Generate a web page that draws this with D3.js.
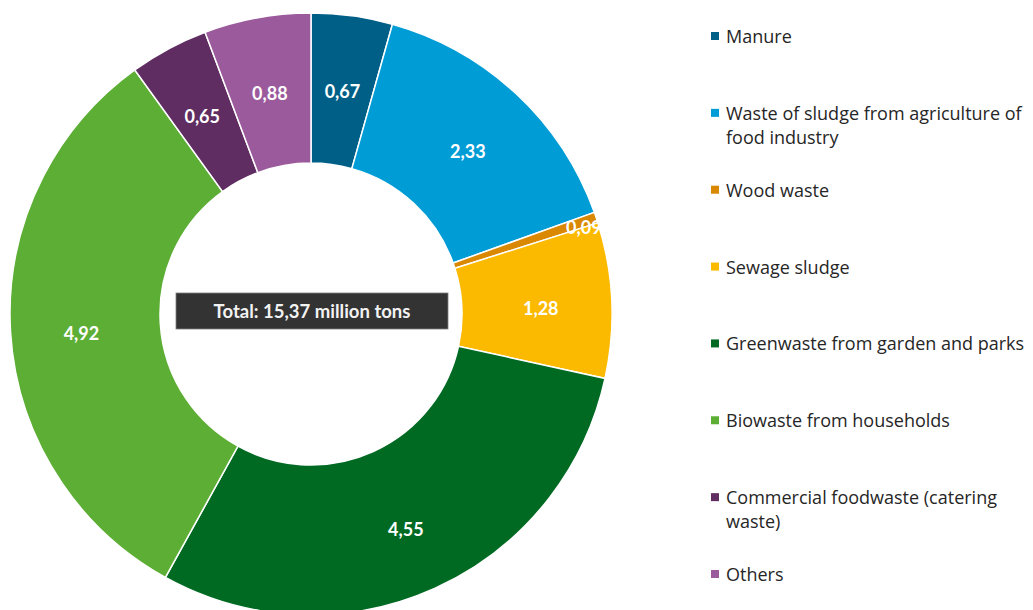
<!DOCTYPE html>
<html>
<head>
<meta charset="utf-8">
<script src="https://cdn.jsdelivr.net/npm/d3@7"></script>
<style>
  html, body { margin: 0; padding: 0; background: #ffffff; }
  svg { display: block; }
</style>
</head>
<body>
<svg id="chart" width="1033" height="610"></svg>
<script>
const categories = [
  "Manure",
  "Waste of sludge from agriculture of food industry",
  "Wood waste",
  "Sewage sludge",
  "Greenwaste from garden and parks",
  "Biowaste from households",
  "Commercial foodwaste (catering waste)",
  "Others"
];
const legendLines = [
  ["Manure"],
  ["Waste of sludge from agriculture of", "food industry"],
  ["Wood waste"],
  ["Sewage sludge"],
  ["Greenwaste from garden and parks"],
  ["Biowaste from households"],
  ["Commercial foodwaste (catering", "waste)"],
  ["Others"]
];
const values = [0.67, 2.33, 0.09, 1.28, 4.55, 4.92, 0.65, 0.88];
const colors = ["#005f87", "#009cd6", "#d98800", "#fbba00", "#006a23", "#5dae35", "#5f2d62", "#9b5a9c"];
const totalLabel = "Total: 15,37 million tons";

const svg = d3.select("#chart");
const cx = 311, cy = 314, R = 301, r = 151;
const fmt = v => v.toFixed(2).replace(".", ",");

const pie = d3.pie().sort(null).value(d => d.value);
const data = categories.map((c, i) => ({ name: c, value: values[i], color: colors[i] }));
const arcs = pie(data);
const arc = d3.arc().innerRadius(r).outerRadius(R);

const g = svg.append("g").attr("transform", `translate(${cx},${cy})`);
g.selectAll("path.slice").data(arcs).join("path")
  .attr("class", "slice")
  .attr("d", arc)
  .attr("fill", d => d.data.color)
  .attr("stroke", "#ffffff")
  .attr("stroke-width", 1.5);

const labelArc = d3.arc().innerRadius(230).outerRadius(230);
const smallArc = d3.arc().innerRadius(288).outerRadius(288);
g.selectAll("text.val").data(arcs).join("text")
  .attr("class", "val")
  .attr("transform", d => {
    const small = (d.endAngle - d.startAngle) < 0.1;
    const [x, y] = small ? smallArc.centroid(d) : labelArc.centroid(d);
    return `translate(${x},${y + 5})`;
  })
  .attr("text-anchor", "middle")
  .attr("dominant-baseline", "central")
  .attr("font-family", "Lato, 'Open Sans', sans-serif")
  .attr("font-weight", "bold")
  .attr("font-size", 18)
  .attr("fill", "#ffffff")
  .text(d => fmt(d.data.value));

// Total box
const boxW = 272, boxH = 36;
g.append("rect")
  .attr("x", -boxW / 2 + 1).attr("y", -boxH / 2 - 3)
  .attr("width", boxW).attr("height", boxH)
  .attr("fill", "#333333")
  .attr("stroke", "#7f7f7f").attr("stroke-width", 0.8);
g.append("text")
  .attr("x", 1).attr("y", -3)
  .attr("text-anchor", "middle")
  .attr("dominant-baseline", "central")
  .attr("font-family", "Lato, 'Open Sans', sans-serif")
  .attr("font-weight", "bold")
  .attr("font-size", 18.5)
  .attr("fill", "#f2f2f2")
  .text(totalLabel);

// Legend
const legendFont = "'Open Sans', Lato, sans-serif";
const probe = svg.append("text")
  .attr("font-family", legendFont).attr("font-size", 100)
  .text("Greenwaste from garden and parks");
const legendSize = Math.min(18, 100 * 301 / probe.node().getComputedTextLength());
probe.remove();

const ly = d3.scalePoint().domain(categories).range([36, 574]);
const legend = svg.append("g");
const items = legend.selectAll("g.item").data(data).join("g")
  .attr("class", "item")
  .attr("transform", d => `translate(711,${ly(d.name)})`);
items.append("rect")
  .attr("x", 0).attr("y", -4)
  .attr("width", 8).attr("height", 8)
  .attr("fill", d => d.color);
items.append("text")
  .attr("x", 15)
  .attr("font-family", legendFont)
  .attr("font-size", legendSize)
  .attr("fill", "#262626")
  .each(function(d, i) {
    const t = d3.select(this);
    legendLines[i].forEach((line, j) => {
      t.append("tspan")
        .attr("x", 15)
        .attr("y", j * 24)
        .attr("dominant-baseline", "central")
        .text(line);
    });
  });
</script>
</body>
</html>
